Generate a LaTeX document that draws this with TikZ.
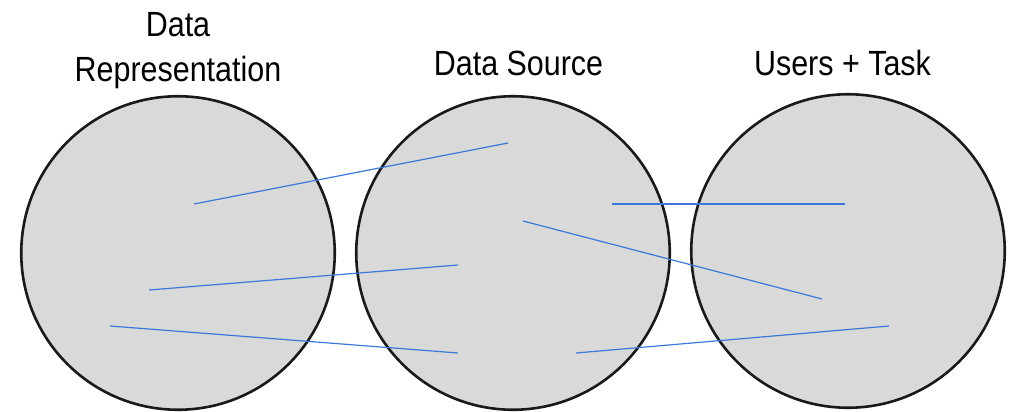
\documentclass[tikz,border=0pt]{standalone}
\usepackage{fontspec}
\setmainfont{Liberation Sans}
\definecolor{discfill}{HTML}{D9D9D9}
\definecolor{linkblue}{HTML}{3C78D8}
\begin{document}
\begin{tikzpicture}[x=1pt,y=-1pt,
  disc/.style={circle,draw=black!90,line width=2.6pt,fill=discfill,
    minimum size=313.5pt,inner sep=0pt},
  heading/.style={anchor=base,inner sep=0pt,xscale=0.87,transform shape,
    font=\fontsize{35}{45}\selectfont,align=center},
  link/.style={draw=linkblue,line width=1.2pt}]
\useasboundingbox (0,0) rectangle (1017,412);

% the three sets
\node[disc] (rep) at (178,253) {};
\node[disc] (src) at (513,253) {};
\node[disc] (usr) at (848,251) {};

% set titles
\node[heading] (repT) at (178,36.7) {Data};
\node[heading] (repT2) at (178,81.7) {Representation};
\node[heading] (srcT) at (518.5,75.5) {Data Source};
\node[heading] (usrT) at (842.5,75) {Users + Task};

% link end points
\coordinate (a1) at (194,204);
\coordinate (a2) at (508,143);
\coordinate (b1) at (149,290);
\coordinate (b2) at (458,265);
\coordinate (c1) at (110,326);
\coordinate (c2) at (458,353);
\coordinate (d1) at (612,204);
\coordinate (d2) at (845,204);
\coordinate (e1) at (523,221);
\coordinate (e2) at (822,299);
\coordinate (f1) at (576,353);
\coordinate (f2) at (889,326);

% links between sets
\draw[link] (a1) -- (a2);
\draw[link] (b1) -- (b2);
\draw[link] (c1) -- (c2);
\draw[link] (d1) -- (d2);
\draw[link] (e1) -- (e2);
\draw[link] (f1) -- (f2);
\end{tikzpicture}
\end{document}
